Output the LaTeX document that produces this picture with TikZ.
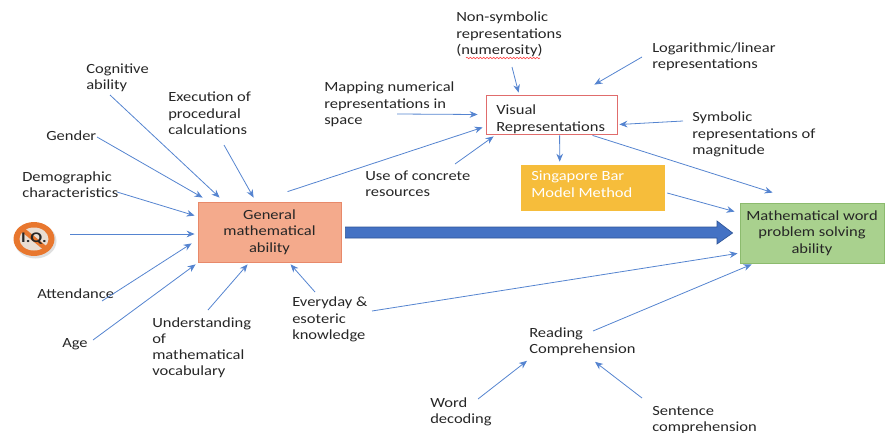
\documentclass[tikz,border=0pt]{standalone}
\usepackage{fontspec}
\setmainfont{Carlito}[FakeStretch=1.18]
\usetikzlibrary{arrows.meta,calc,decorations.pathmorphing,shapes.geometric}
\definecolor{connblue}{HTML}{5584D0}
\definecolor{bigblue}{HTML}{4472C4}
\definecolor{bigedge}{HTML}{2F5597}
\definecolor{salmon}{HTML}{F4AA8C}
\definecolor{salmonedge}{HTML}{E8896A}
\definecolor{gold}{HTML}{F6BD3B}
\definecolor{lgreen}{HTML}{A9D18E}
\definecolor{lgreenedge}{HTML}{8CBB6E}
\definecolor{visedge}{HTML}{E06C6C}
\definecolor{txt}{HTML}{262626}
\definecolor{iqorange}{HTML}{E8772E}
\definecolor{iqinner}{HTML}{E9DDD2}
\tikzset{
  lbl/.style={anchor=base west, align=left, inner sep=0pt, text=txt},
  conn/.style={draw=connblue, line width=0.6pt, -{Stealth[length=6pt,width=5pt]}},
  boxtxt/.style={text=txt, inner ysep=0pt}
}
\begin{document}
\begin{tikzpicture}[x=0.75pt,y=-0.75pt, font=\fontsize{10.5}{12.2}\selectfont]
\useasboundingbox (0,0) rectangle (885,432);

% ---- boxes ----
\node[boxtxt, fill=salmon, draw=salmonedge, line width=0.6pt, minimum width=107.25pt, minimum height=45pt, align=center] (gen) at (269.5,232) {General\\mathematical\\ability};
\node[fill=white, draw=visedge, line width=0.6pt, minimum width=98.25pt, minimum height=29.25pt, inner sep=0pt] (vis) at (551.5,114.5) {};
\node[lbl] (vistxt) at (496,131) {Visual\\Representations};
\node[fill=gold, minimum width=108pt, minimum height=34.5pt, inner sep=0pt] (sing) at (593,188) {};
\node[lbl, text=white] (singtxt) at (531,197) {Singapore Bar\\Model Method};
\node[boxtxt, fill=lgreen, draw=lgreenedge, line width=0.6pt, minimum width=108pt, minimum height=45pt, align=center] (green) at (812,233) {Mathematical word\\problem solving\\ability};

% ---- big arrow ----
\draw[fill=bigblue, draw=bigedge, line width=0.5pt]
  ($(gen.east)+(4,-5)$) coordinate (ba1) -- (717,227) -- (717,221) -- ($(green.west)+(-7,0)$) coordinate (ba2) -- (717,244) -- (717,238) -- ($(gen.east)+(4,6)$) -- cycle;

% ---- I.Q. icon ----
\node[ellipse, minimum width=31pt, minimum height=26pt, inner sep=0pt] (iq) at (34,239) {};
\fill[black!25, opacity=0.5] (35.5,241) ellipse [x radius=21, y radius=17.5];
\fill[iqorange] (iq.center) ellipse [x radius=20.5, y radius=17];
\fill[iqinner] (iq.center) ellipse [x radius=14.5, y radius=11.5];
\draw[iqorange, line width=3.5pt] ($(iq.center)+(-11,-9)$) -- ($(iq.center)+(11,9)$);
\node[text=txt, font=\fontsize{11}{12}\selectfont\bfseries, inner sep=0pt] (iqtxt) at (iq.center) {I.Q.};

% ---- labels (anchor = baseline of last line) ----
\node[lbl] (cog) at (86,89.3) {Cognitive\\ability};
\node[lbl] (gender) at (46,140) {Gender};
\node[lbl] (demo) at (22,197.3) {Demographic\\characteristics};
\node[lbl] (exec) at (168,134.5) {Execution of\\procedural\\calculations};
\node[lbl] (attend) at (37,298) {Attendance};
\node[lbl] (age) at (62,347) {Age};
\node[lbl] (under) at (152,375.8) {Understanding\\of\\mathematical\\vocabulary};
\node[lbl] (every) at (292,339.5) {Everyday \&\\esoteric\\knowledge};
\node[lbl] (mapping) at (324,124.5) {Mapping numerical\\representations in\\space};
\node[lbl] (use) at (365,196.3) {Use of concrete\\resources};
\node[lbl] (nonsym) at (456,54.5) {Non-symbolic\\representations\\(numerosity)};
\node[lbl] (log) at (652,68.3) {Logarithmic/linear\\representations};
\node[lbl] (symb) at (692,154.5) {Symbolic\\representations of\\magnitude};
\node[lbl] (reading) at (529,353.3) {Reading\\Comprehension};
\node[lbl] (word) at (430,423.3) {Word\\decoding};
\node[lbl] (sent) at (652,431.3) {Sentence\\comprehension};

% spell-check squiggle
\draw[red!80, line width=0.4pt, decorate, decoration={snake, amplitude=0.6pt, segment length=2.5pt}] (466,58) -- (540,58);

% ---- connector start points ----
\coordinate (sCog) at (110,95);
\coordinate (sGender) at (97,137);
\coordinate (sDemo) at (117,192);
\coordinate (sIQ) at (70,234);
\coordinate (sAttend) at (102,301);
\coordinate (sAge) at (93,340);
\coordinate (sUnder) at (208,310);
\coordinate (sExec) at (224,145);
\coordinate (sEvery) at (315,292);
\coordinate (sEvery2) at (372,311);
\coordinate (sMap) at (397,114);
\coordinate (sUse) at (455,164);
\coordinate (sNon) at (512,67);
\coordinate (sLog) at (642,57);
\coordinate (sSymb) at (683,121);
\coordinate (sRead) at (593,331);
\coordinate (sWord) at (478,399);
\coordinate (sSent) at (642,398);

% ---- connectors into General ----
\draw[conn] (sCog) -- ($(gen.north west)+(22,-4)$);
\draw[conn] (sGender) -- ($(gen.north west)+(5,-4)$);
\draw[conn] (sDemo) -- ($(gen.north west)+(-3,14)$);
\draw[conn] (sIQ) -- ($(gen.west)+(-3,2)$);
\draw[conn] (sAttend) -- ($(gen.south west)+(-6,-19)$);
\draw[conn] (sAge) -- ($(gen.south west)+(-2,2)$);
\draw[conn] (sUnder) -- ($(gen.south west)+(50,2)$);
\draw[conn] (sExec) -- ($(gen.north west)+(56,-4)$);
\draw[conn] (sEvery) -- ($(gen.south west)+(93,2)$);

% ---- connectors into Visual ----
\draw[conn] ($(gen.north west)+(90,-10)$) -- ($(vis.south west)+(-3,-7)$);
\draw[conn] (sMap) -- ($(vis.west)+(-8,0)$);
\draw[conn] (sUse) -- ($(vis.south west)+(8,2)$);
\draw[conn] (sNon) -- ($(vis.north west)+(33,-2)$);
\draw[conn] (sLog) -- ($(vis.north east)+(-23,-10)$);
\draw[conn] (sSymb) -- ($(vis.east)+(2,10)$);

% ---- from Visual / Singapore ----
\draw[conn] ($(vis.south west)+(74,1)$) -- ($(sing.north west)+(39,-3)$);
\draw[conn] ($(vis.south west)+(107,1)$) -- ($(green.north west)+(33,-10)$);
\draw[conn] ($(sing.east)+(2,5)$) -- ($(green.north west)+(-5,9)$);

% ---- into Mathematical word problem ----
\draw[conn] (sEvery2) -- ($(green.south west)+(-2,-10)$);
\draw[conn] (sRead) -- ($(green.south west)+(12,1)$);

% ---- into Reading ----
\draw[conn] (sWord) -- ($(reading.south west)+(-2,5)$);
\draw[conn] (sSent) -- ($(reading.south west)+(66,6)$);
\end{tikzpicture}
\end{document}
